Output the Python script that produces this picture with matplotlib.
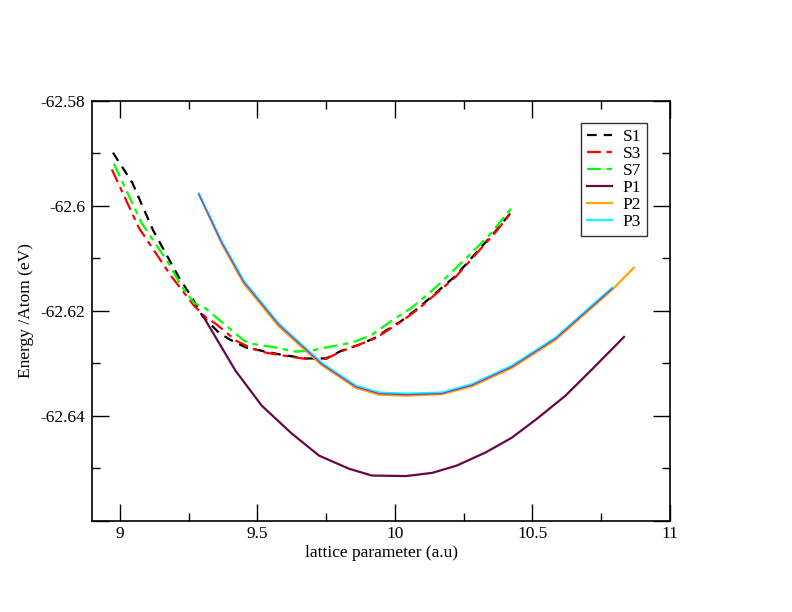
import matplotlib
matplotlib.use("Agg")
import matplotlib.pyplot as plt
from matplotlib.ticker import MultipleLocator

plt.rcParams['font.family'] = ['Liberation Serif', 'DejaVu Serif']
plt.rcParams['lines.scale_dashes'] = False

# ---- data ----
s1_x = [8.975, 9.045, 9.12, 9.215, 9.262, 9.30, 9.36, 9.40, 9.458, 9.531, 9.589, 9.676,
        9.749, 9.807, 9.869, 9.931, 9.967, 10.025, 10.087, 10.149, 10.222, 10.295, 10.367, 10.422]
s1_y = [-62.5899, -62.5956, -62.6046, -62.6137, -62.6175, -62.6210, -62.6242, -62.6255,
        -62.6270, -62.6278, -62.6284, -62.6291, -62.6291, -62.6276, -62.6265, -62.6251,
        -62.6238, -62.6219, -62.6194, -62.6166, -62.6133, -62.6090, -62.6048, -62.6013]

s3_x = [8.971, 9.069, 9.185, 9.269, 9.313, 9.349, 9.422, 9.48, 9.531, 9.589, 9.676, 9.749,
        9.807, 9.869, 9.931, 10.025, 10.087, 10.149, 10.222, 10.295, 10.367, 10.422]
s3_y = [-62.5931, -62.6042, -62.6133, -62.6190, -62.6213, -62.6225, -62.6257, -62.6272,
        -62.6280, -62.6285, -62.6292, -62.6292, -62.6277, -62.6265, -62.6252, -62.6220,
        -62.6196, -62.6168, -62.6135, -62.6092, -62.6050, -62.6013]

s7_x = [8.978, 9.08, 9.178, 9.222, 9.269, 9.313, 9.378, 9.451, 9.48, 9.553, 9.64, 9.695,
        9.76, 9.844, 9.916, 9.989, 10.062, 10.135, 10.204, 10.269, 10.342, 10.422]
s7_y = [-62.5920, -62.6034, -62.6110, -62.6152, -62.6185, -62.6196, -62.6225, -62.6257,
        -62.6263, -62.6269, -62.6278, -62.6276, -62.6269, -62.6261, -62.6246, -62.6219,
        -62.6194, -62.6162, -62.6128, -62.6095, -62.6057, -62.6006]

p1_x = [9.30, 9.42, 9.516, 9.625, 9.724, 9.833, 9.916, 10.04, 10.135, 10.225, 10.33,
        10.425, 10.516, 10.62, 10.72, 10.833]
p1_y = [-62.6208, -62.6314, -62.6381, -62.6434, -62.6476, -62.6501, -62.6514, -62.6515,
        -62.6509, -62.6495, -62.6470, -62.6442, -62.6406, -62.6362, -62.6310, -62.6250]

p2_x = [9.287, 9.37, 9.45, 9.578, 9.735, 9.858, 9.942, 10.04, 10.17, 10.28, 10.425,
        10.585, 10.79, 10.869]
p2_y = [-62.5978, -62.6072, -62.6148, -62.6230, -62.6304, -62.6347, -62.6360, -62.6362,
        -62.6359, -62.6344, -62.6309, -62.6255, -62.6160, -62.6118]

p3_x = [9.287, 9.37, 9.45, 9.578, 9.735, 9.858, 9.942, 10.04, 10.17, 10.28, 10.425,
        10.585, 10.79]
p3_y = [-62.5977, -62.6068, -62.6143, -62.6225, -62.6300, -62.6343, -62.6356, -62.6358,
        -62.6356, -62.6340, -62.6305, -62.6251, -62.6156]

p4_x = [9.287, 9.37, 9.45, 9.578, 9.735, 9.858, 9.942, 10.04, 10.17, 10.28, 10.425,
        10.585, 10.79]
p4_y = [-62.5978, -62.6070, -62.6145, -62.6227, -62.6302, -62.6345, -62.6358, -62.6360,
        -62.6358, -62.6342, -62.6307, -62.6253, -62.6158]

x_ticks = [9, 9.5, 10, 10.5, 11]
x_ticklabels = ['9', '9.5', '10', '10.5', '11']
y_ticks = [-62.66, -62.64, -62.62, -62.6, -62.58]
y_ticklabels = ['', '-62.64', '-62.62', '-62.6', '-62.58']

fs = 12.5

fig = plt.figure(figsize=(7.92, 6.12), dpi=100)
ax = fig.add_axes([0.1166, 0.1492, 0.7293, 0.6863])

lw = 1.6
ax.plot(s1_x, s1_y, color='black', lw=lw, dashes=(7, 5), label='S1')
ax.plot(s3_x, s3_y, color='red', lw=lw, dashes=(10, 4, 4, 4), label='S3')
ax.plot(s7_x, s7_y, color='#00ff00', lw=lw, dashes=(10, 4, 4, 4), label='S7')
ax.plot(p1_x, p1_y, color='#670748', lw=lw, label='P1')
ax.plot(p2_x, p2_y, color='#ffa500', lw=lw, label='P2')
ax.plot(p3_x, p3_y, color='#00ffff', lw=lw, label='P3')
ax.plot(p4_x, p4_y, color='#a020d0', lw=0.8)

ax.set_xlim(8.9, 11)
ax.set_ylim(-62.66, -62.58)

ax.set_xticks(x_ticks)
ax.set_xticklabels(x_ticklabels)
ax.set_yticks(y_ticks)
ax.set_yticklabels(y_ticklabels)
ax.xaxis.set_minor_locator(MultipleLocator(0.25))
ax.yaxis.set_minor_locator(MultipleLocator(0.01))

ax.tick_params(which='both', direction='in', top=True, right=True, labelsize=fs,
               width=1, color='black')
ax.tick_params(which='major', length=12)
ax.tick_params(which='minor', length=6)
ax.tick_params(axis='x', pad=4)
ax.tick_params(axis='y', pad=5)
for sp in ax.spines.values():
    sp.set_linewidth(1.2)

ax.set_xlabel('lattice parameter (a.u)', fontsize=fs, labelpad=2)
ax.set_ylabel('Energy /Atom (eV)', fontsize=fs, labelpad=5)

leg = ax.legend(loc='upper left', bbox_to_anchor=(0.846, 0.947), fontsize=fs,
                frameon=True, fancybox=False, edgecolor='black', handlelength=1.45,
                handletextpad=0.6, labelspacing=0.05, borderpad=0.35, borderaxespad=0)
leg.get_frame().set_linewidth(1.0)

fig.savefig('out.png', dpi=100)
